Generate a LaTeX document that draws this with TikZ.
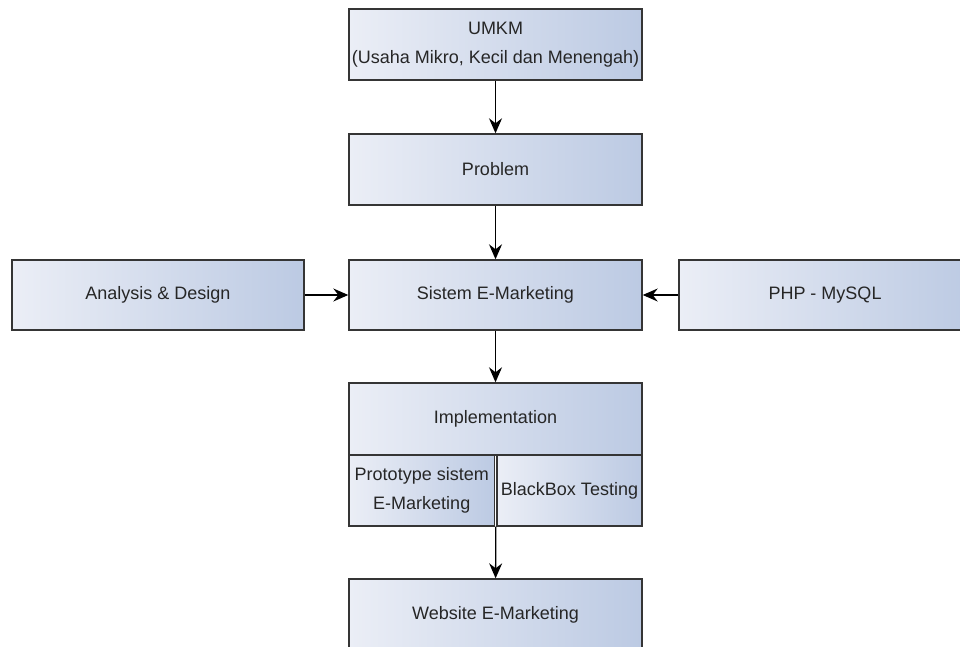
\documentclass[tikz,border=0pt]{standalone}
\usepackage{fontspec}
\setmainfont{Liberation Sans}
\usetikzlibrary{arrows.meta,calc}
\definecolor{boxL}{HTML}{EBEEF6}
\definecolor{boxR}{HTML}{BCCAE3}
\definecolor{edge}{HTML}{353535}
\definecolor{txt}{HTML}{262626}
\begin{document}
\begin{tikzpicture}[x=1pt,y=-1pt,
  box/.style={draw=edge, line width=1.4pt, left color=boxL, right color=boxR,
    rectangle, inner sep=0pt, align=center, text=txt,
    font=\fontsize{18}{29}\selectfont},
  wide/.style={box, minimum width=293pt, minimum height=71pt},
  half/.style={box, minimum width=146pt, minimum height=71pt},
  arr/.style={draw=black, line width=1.3pt, -{Stealth[length=15pt,width=13pt,inset=5pt]}}
]
\useasboundingbox (0,0) rectangle (960,647);
\clip (0,0) rectangle (960,647);
\node[wide] (umkm) at (495.5,44.5) {UMKM\\(Usaha Mikro, Kecil dan Menengah)};
\node[wide] (prob) at (495.5,169.5) {Problem};
\node[wide, minimum height=70pt] (sis) at (495.5,295) {Sistem E-Marketing};
\node[wide, minimum width=292pt, minimum height=70pt] (ana) at (158,295) {Analysis \& Design};
\node[wide, minimum width=292pt, minimum height=70pt] (php) at (825,295) {PHP - MySQL};
\node[wide, minimum height=72pt] (impl) at (495.5,419) {Implementation};
\node[half, minimum width=145.5pt] (proto) at (421.75,490.5) {Prototype sistem\\E-Marketing};
\node[half, minimum width=145pt] (bb) at (569.5,490.5) {BlackBox Testing};
\node[wide] (web) at (495.5,614.5) {Website E-Marketing};
\coordinate (implbot) at ($(proto.south east)!0.5!(bb.south west)$);
\draw[arr] (umkm) -- (prob);
\draw[arr] (prob) -- (sis);
\draw[arr] (ana) -- (sis);
\draw[arr] (php) -- (sis);
\draw[arr] (sis) -- (impl);
\draw[arr] (implbot) -- (web);
\end{tikzpicture}
\end{document}
